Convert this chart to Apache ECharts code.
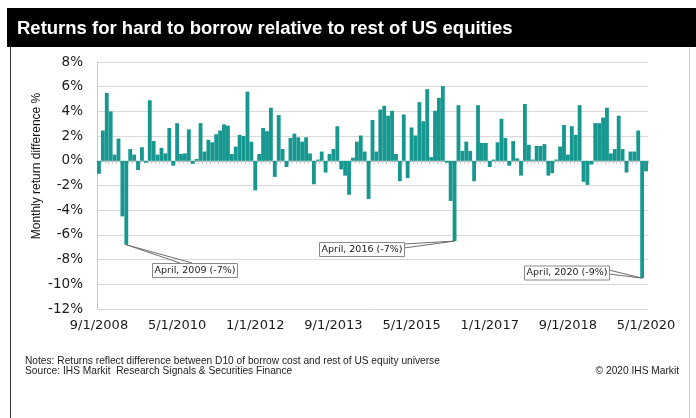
<!DOCTYPE html>
<html><head><meta charset="utf-8">
<script src="https://cdn.jsdelivr.net/npm/echarts@6/dist/echarts.min.js"></script>
<style>html,body{margin:0;padding:0;background:#fff}#c{width:696px;height:418px}</style>
</head><body><div id="c"></div>
<script>
// ---- data ----
const startYear = 2008, startMonth = 9, monthCount = 141;
const categories = [];
for (let i = 0; i < monthCount; i++) {
  const m = (startMonth - 1 + i) % 12 + 1;
  const y = startYear + Math.floor((startMonth - 1 + i) / 12);
  categories.push(m + '/1/' + y);
}
const returnDiff = [
  -1.05, 2.45, 5.5, 4.0, 0.5, 1.8, -4.5, -6.8, 0.95, 0.5, -0.75, 1.1, -0.15, 4.9, 1.6, 0.5,
  1.05, 0.6, 2.65, -0.4, 3.05, 0.55, 0.6, 2.55, -0.25, 0.15, 3.05, 0.75,
  1.7, 1.5, 2.15, 2.45, 2.95, 2.85, 0.55, 1.15, 2.1, 2.0, 5.6, 1.55,
  -2.4, 0.55, 2.65, 2.4, 4.3, -1.3, 3.7, 0.95, -0.5, 1.85, 2.2, 1.9,
  1.55, 1.9, 0.6, -1.9, 0.1, 0.75, -0.95, 0.55, 0.95, 2.8, -0.7, -1.2,
  -2.75, 0.25, 1.55, 2.05, 0.75, -3.1, 3.3, 0.75, 4.15, 4.45, 3.65, 4.05,
  0.55, -1.65, 3.75, -1.4, 2.7, 2.05, 4.75, 3.2, 5.8, 0.3, 4.05, 5.1,
  6.05, -0.15, -3.25, -6.5, 4.5, 0.8, 1.55, 0.8, -1.65, 4.5, 1.45, 1.45,
  -0.5, 0.1, 1.5, 3.4, 1.85, -0.4, 1.6, 0.2, -1.2, 4.6, 1.3, 0.1,
  1.2, 1.2, 1.35, -1.2, -1.0, 0.1, 1.15, 2.9, 0.5, 2.8, 2.1, 4.5,
  -1.7, -1.95, -0.3, 3.05, 3.05, 3.5, 4.3, 0.6, 0.95, 3.65, 0.95, -0.95,
  0.75, 0.75, 2.45, -9.5, -0.85
];
const yMin = -12, yMax = 8, yStep = 2;
const annIndex = [7, 91, 139];
const annText = ['April, 2009 (-7%)', 'April, 2016 (-7%)', 'April, 2020 (-9%)'];

const titleText = 'Returns for hard to borrow relative to rest of US equities';
const yName = 'Monthly return difference %';
const notesText = 'Notes: Returns reflect difference between D10 of borrow cost and rest of US equity universe';
const sourceText = 'Source: IHS Markit  Research Signals & Securities Finance';
const copyText = '\u00A9 2020 IHS Markit';

// ---- chart ----
const chart = echarts.init(document.getElementById('c'), null, {renderer: 'canvas'});
const teal = '#16978f';
const labelFont = 'DejaVu Sans';
const smallFont = '10.2px "Liberation Sans", Arial, sans-serif';

chart.setOption({
  animation: false,
  backgroundColor: '#ffffff',
  grid: {left: 97, right: 48, top: 62, bottom: 109},
  xAxis: [
    {
      type: 'category', data: categories, position: 'bottom',
      axisLine: {show: false, onZero: false}, axisTick: {show: false},
      axisLabel: {interval: 19, margin: 10, fontFamily: labelFont, fontSize: 13, color: '#1a1a1a'},
      splitLine: {show: false}
    },
    {
      type: 'category', data: categories, position: 'top',
      axisLine: {show: true, onZero: true, lineStyle: {color: '#bdbdbd', width: 1}},
      axisTick: {show: true, inside: true, length: 3, interval: 0, lineStyle: {color: '#c8c8c8'}},
      axisLabel: {show: false}, splitLine: {show: false}
    }
  ],
  yAxis: {
    type: 'value', min: yMin, max: yMax, interval: yStep,
    axisLine: {show: true, lineStyle: {color: '#c8c8c8'}},
    axisTick: {show: false},
    splitLine: {lineStyle: {color: '#d9d9d9', width: 1}},
    axisLabel: {formatter: '{value}%', margin: 14, fontFamily: labelFont, fontSize: 13.5, color: '#1a1a1a'}
  },
  series: [{
    type: 'bar', xAxisIndex: 0, data: returnDiff,
    barCategoryGap: '2%', silent: true,
    itemStyle: {color: teal}
  }]
});

const graphics = [
  {type: 'rect', shape: {x: 7, y: 8, width: 689, height: 39}, style: {fill: '#000'}, z: 10},
  {type: 'text', x: 17, y: 29, style: {text: titleText, fill: '#fff', font: 'bold 18.5px "Liberation Sans", Arial, sans-serif', textVerticalAlign: 'middle'}, z: 11},
  {type: 'line', shape: {x1: 10.5, y1: 47, x2: 10.5, y2: 418}, style: {stroke: '#333', lineWidth: 1}, z: 10},
  {type: 'line', shape: {x1: 689.5, y1: 47, x2: 689.5, y2: 418}, style: {stroke: '#d0d0d0', lineWidth: 1}, z: 10},
  {type: 'text', x: 37, y: 166, rotation: Math.PI / 2,
    style: {text: yName, fill: '#111', font: '12px "Liberation Sans", Arial, sans-serif', textAlign: 'center', textVerticalAlign: 'middle'}, z: 10},
  {type: 'text', x: 25, y: 361, style: {text: notesText, fill: '#222', font: smallFont, textVerticalAlign: 'middle'}, z: 10},
  {type: 'text', x: 25, y: 371, style: {text: sourceText, fill: '#222', font: smallFont, textVerticalAlign: 'middle'}, z: 10},
  {type: 'text', x: 679, y: 371, style: {text: copyText, fill: '#222', font: smallFont, textAlign: 'right', textVerticalAlign: 'middle'}, z: 10}
];

// annotation boxes (layout) and leader lines to the bar tips
const boxes = [
  {x: 152, y: 263, w: 85, h: 14, a: [180, 263], b: [192, 263]},
  {x: 319, y: 242, w: 85, h: 14, a: [404, 244], b: [404, 248]},
  {x: 524, y: 265.5, w: 85, h: 14, a: [609, 270], b: [609, 274]}
];
annIndex.forEach((idx, k) => {
  const tip = chart.convertToPixel({xAxisIndex: 0, yAxisIndex: 0}, [idx, returnDiff[idx]]);
  const bx = boxes[k];
  graphics.push({type: 'polyline', shape: {points: [bx.a, [tip[0], tip[1]], bx.b]}, style: {stroke: '#6e6e6e', lineWidth: 1, fill: null}, z: 12});
  graphics.push({type: 'rect', shape: {x: bx.x + 0.5, y: bx.y + 0.5, width: bx.w, height: bx.h}, style: {fill: '#fff', stroke: '#8a8a8a', lineWidth: 1}, z: 13});
  graphics.push({type: 'text', x: bx.x + bx.w / 2 + 0.5, y: bx.y + bx.h / 2 + 0.5,
    style: {text: annText[k], fill: '#1a1a1a', font: '9.5px "DejaVu Sans", sans-serif', textAlign: 'center', textVerticalAlign: 'middle'}, z: 14});
});
chart.setOption({graphic: graphics});
</script>
</body></html>
